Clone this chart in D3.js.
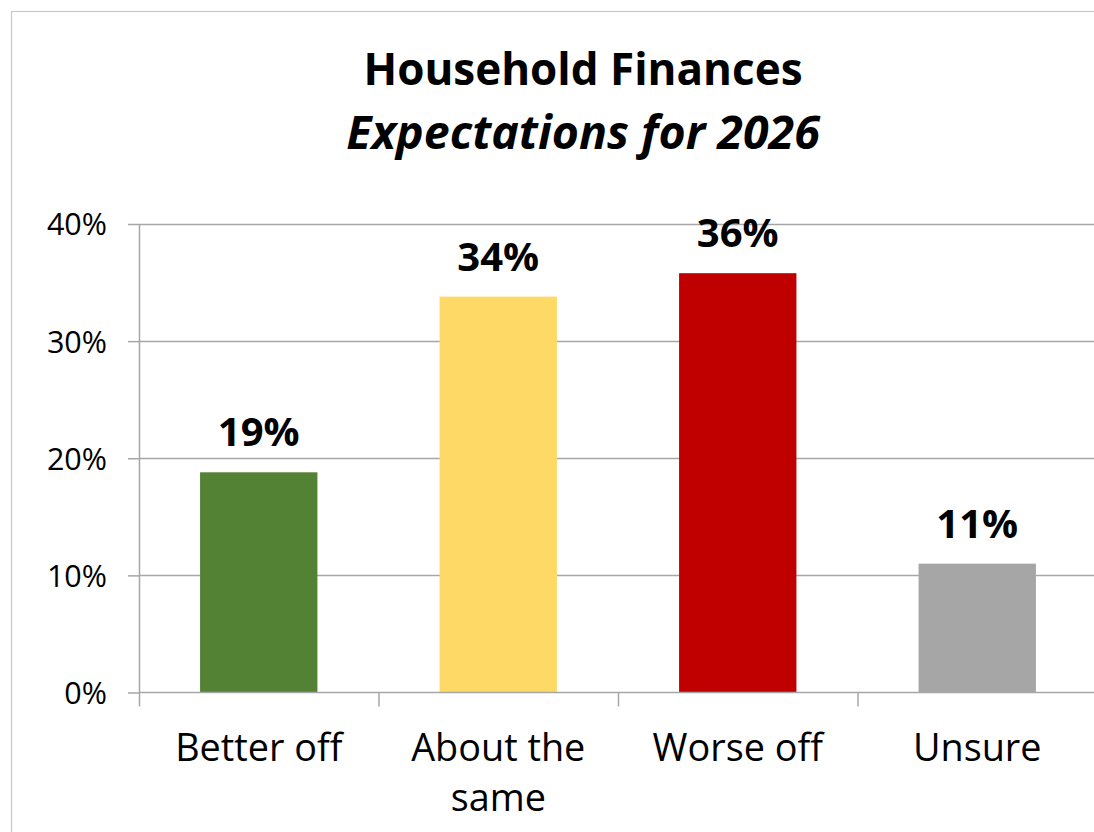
<!DOCTYPE html>
<html>
<head>
<meta charset="utf-8">
<script src="https://cdn.jsdelivr.net/npm/d3@7"></script>
<style>
  html, body { margin: 0; padding: 0; background: #fff; }
  svg text { font-family: "Open Sans", Lato, sans-serif; fill: #000; }
</style>
</head>
<body>
<svg id="chart" width="1094" height="832"></svg>
<script>
const categories = ["Better off", "About the same", "Worse off", "Unsure"];
const categoryLines = [["Better off"], ["About the", "same"], ["Worse off"], ["Unsure"]];
const values = [18.8, 33.8, 35.8, 11.0];
const valueLabels = ["19%", "34%", "36%", "11%"];
const colors = ["#548235", "#FFD966", "#C00000", "#A6A6A6"];
const yTicks = [0, 10, 20, 30, 40];
const yTickLabels = ["0%", "10%", "20%", "30%", "40%"];
const titleLine1 = "Household Finances";
const titleLine2 = "Expectations for 2026";

const svg = d3.select("#chart");

// chart border
svg.append("rect")
  .attr("x", 11.5).attr("y", 11.5)
  .attr("width", 1200).attr("height", 1000)
  .attr("fill", "#fff").attr("stroke", "#c8c8c8").attr("stroke-width", 1.2);

const pLeft = 139, pRight = 1097, pTop = 224, pBottom = 692.5;

const x = d3.scaleBand().domain(categories).range([pLeft, pRight])
  .paddingInner(0.51).paddingOuter(0.255);
const y = d3.scaleLinear().domain([0, 40]).range([pBottom, pTop]);

// gridlines
svg.append("g").selectAll("line").data(yTicks.filter(d => d > 0)).join("line")
  .attr("x1", pLeft).attr("x2", 1094)
  .attr("y1", d => Math.round(y(d)) + 0.5).attr("y2", d => Math.round(y(d)) + 0.5)
  .attr("stroke", "#a6a6a6").attr("stroke-width", 1.5);

// y axis
const yAxis = d3.axisLeft(y).tickValues(yTicks)
  .tickFormat((d, i) => yTickLabels[i]).tickSize(11).tickPadding(21);
const gy = svg.append("g").attr("transform", `translate(${pLeft},0)`).call(yAxis);
gy.select(".domain").attr("stroke", "#a6a6a6").attr("stroke-width", 1.5)
  .attr("d", `M0.5,${pTop}V${pBottom}`);
gy.selectAll(".tick line").attr("stroke", "#a6a6a6").attr("stroke-width", 1.5);
gy.selectAll(".tick text").style("font-size", "30.5px")
  .style("font-family", "'Open Sans', Lato, sans-serif").attr("fill", "#000")
  .attr("dy", "0.36em");

// bars
svg.append("g").selectAll("rect").data(values).join("rect")
  .attr("x", (d, i) => x(categories[i]))
  .attr("width", x.bandwidth())
  .attr("y", d => y(d))
  .attr("height", d => pBottom - y(d))
  .attr("fill", (d, i) => colors[i]);

// x axis line
svg.append("line")
  .attr("x1", pLeft).attr("x2", 1094)
  .attr("y1", pBottom).attr("y2", pBottom)
  .attr("stroke", "#a6a6a6").attr("stroke-width", 1.5);

// x category separators (ticks)
const step = x.step();
const sepX = categories.map(c => x(c) - step * x.paddingInner() / 2);
svg.append("g").selectAll("line").data(sepX).join("line")
  .attr("x1", d => d + 0.5).attr("x2", d => d + 0.5)
  .attr("y1", pBottom).attr("y2", pBottom + 14)
  .attr("stroke", "#a6a6a6").attr("stroke-width", 1.5);

// category labels
const catG = svg.append("g").selectAll("text").data(categoryLines).join("text")
  .attr("text-anchor", "middle")
  .attr("x", (d, i) => x(categories[i]) + x.bandwidth() / 2)
  .attr("y", 761)
  .style("font-size", "37.8px");
catG.selectAll("tspan").data(d => d).join("tspan")
  .attr("x", function() { return d3.select(this.parentNode).attr("x"); })
  .attr("dy", (d, i) => i === 0 ? 0 : 50)
  .text(d => d);

// value labels
svg.append("g").selectAll("text").data(values).join("text")
  .attr("text-anchor", "middle")
  .attr("x", (d, i) => x(categories[i]) + x.bandwidth() / 2)
  .attr("y", d => y(d) - 26)
  .style("font-size", "40px").style("font-weight", "bold")
  .text((d, i) => valueLabels[i]);

// titles
svg.append("text").attr("text-anchor", "middle").attr("x", 583).attr("y", 85)
  .style("font-size", "44px").style("font-weight", "bold").text(titleLine1);
svg.append("text").attr("text-anchor", "middle").attr("x", 583).attr("y", 149)
  .style("font-size", "46.5px").style("font-weight", "bold").style("font-style", "italic")
  .text(titleLine2);
</script>
</body>
</html>
